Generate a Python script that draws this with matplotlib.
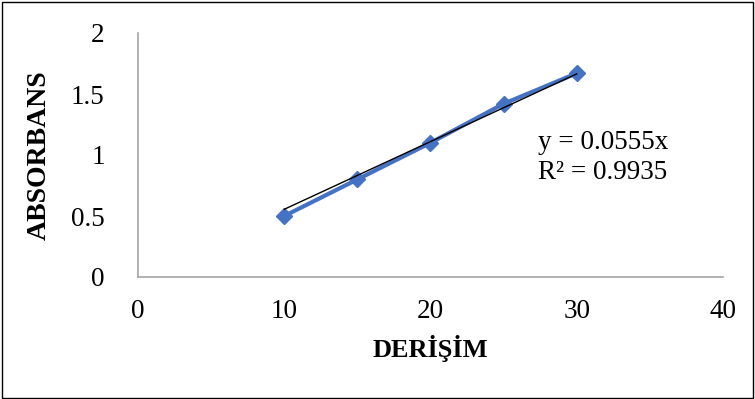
import matplotlib.pyplot as plt
from matplotlib.patches import Rectangle

derisim = [10, 15, 20, 25, 30]
absorbans = [0.5, 0.8, 1.1, 1.42, 1.67]
slope = 0.0555
r2 = 0.9935

plt.rcParams['font.family'] = ['Liberation Serif', 'DejaVu Serif']

fig = plt.figure(figsize=(7.55, 3.99), dpi=100)
ax = fig.add_axes([138 / 755, 1 - 277 / 399, 585 / 755, 244 / 399])

# trend line through origin, drawn over the data range
fit_x = [derisim[0], derisim[-1]]
fit_y = [slope * v for v in fit_x]

ax.plot(derisim, absorbans, color='#4472C4', lw=3, marker='D', ms=8,
        zorder=2)
ax.plot(fit_x, fit_y, color='black', lw=1, zorder=3)

ax.set_xlim(0, 40)
ax.set_ylim(0, 2)
ax.set_xticks([0, 10, 20, 30, 40])
ax.set_yticks([0, 0.5, 1, 1.5, 2])
ax.set_yticklabels(['0', '0.5', '1', '1.5', '2'])

for s in ['top', 'right']:
    ax.spines[s].set_visible(False)
for s in ['left', 'bottom']:
    ax.spines[s].set_color('#A6A6A6')
    ax.spines[s].set_linewidth(1.2)

ax.tick_params(length=0, labelsize=19.5, colors='black')
ax.tick_params(axis='y', pad=24)
ax.tick_params(axis='x', pad=16)

ax.set_xlabel('DERİŞİM', fontsize=19, fontweight='bold', labelpad=8)
ax.set_ylabel('ABSORBANS', fontsize=20, fontweight='bold', labelpad=14)

ax.text(27.35, 1.1, f'y = {slope}x', fontsize=19.5, va='center')
ax.text(27.35, 0.86, f'R² = {r2}', fontsize=19.5, va='center')

fig.patches.append(Rectangle((0.002, 0.003), 0.995, 0.993,
                             transform=fig.transFigure, fill=False,
                             edgecolor='black', lw=1))

fig.savefig('out.png', dpi=100)
